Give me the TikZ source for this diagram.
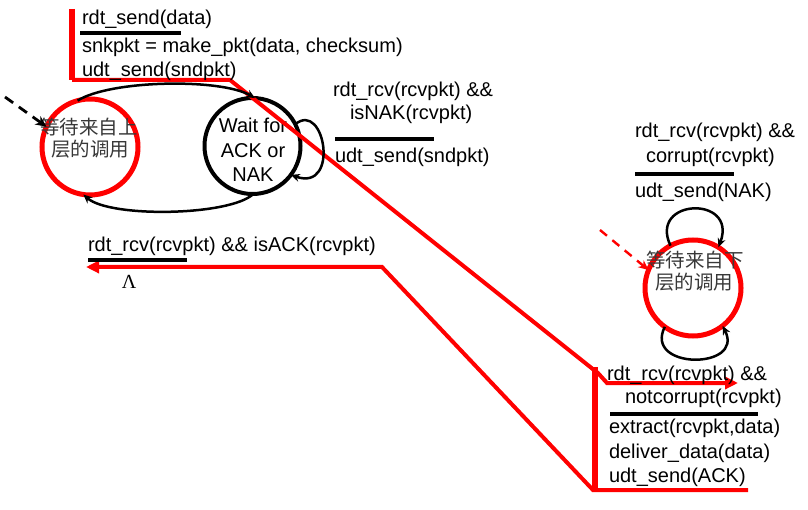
\documentclass[tikz,border=0pt]{standalone}
\usepackage{fontspec}
\setmainfont{Liberation Sans}
\newfontfamily\cjk{Noto Sans CJK SC}
\newfontfamily\serifgreek{Liberation Serif}
\usetikzlibrary{arrows.meta}
\begin{document}
\begin{tikzpicture}[x=1pt,y=-1pt,
  every node/.style={inner sep=0pt,outer sep=0pt},
  txt/.style={anchor=base west,font=\fontsize{20}{24}\selectfont},
  ctxt/.style={anchor=base,font=\fontsize{20}{24}\selectfont},
  cjktxt/.style={anchor=base,font=\fontsize{19.5}{23}\selectfont\cjk,text=black!78},
  state/.style={circle,draw,minimum size=96pt},
  redstate/.style={state,draw=red,line width=5pt},
  blackstate/.style={state,draw=black,line width=4pt},
  arc/.style={draw=black,line width=2.5pt,-{Stealth[length=9pt,width=8pt]}},
  bar/.style={draw=black,line width=3.5pt},
  hl/.style={draw=red,line width=4pt},
  hlthick/.style={draw=red,line width=6.5pt},
  hlarrow/.style={hl,-{Triangle[length=13pt,width=12pt]}},
]
\useasboundingbox (0,0) rectangle (808,510);

% states
\node[redstate] (call) at (90,147) {};
\node[blackstate] (wack) at (252.5,146) {};
\node[redstate] (rcv) at (693,288) {};

% state labels
\node[cjktxt] (callA) at (89,135) {等待来自上};
\node[cjktxt] (callB) at (90,157) {层的调用};
\node[ctxt] (wackA) at (253,133) {Wait for};
\node[ctxt] (wackB) at (253,158) {ACK or};
\node[ctxt] (wackC) at (253,182) {NAK};
\node[cjktxt] (rcvA) at (695,268) {等待来自下};
\node[cjktxt] (rcvB) at (694,290) {层的调用};

% red highlight paths
\coordinate (pa0) at (72,9);
\coordinate (pa1) at (72,80);
\coordinate (pa2) at (230,80);
\coordinate (pa3) at (594,370);
\coordinate (pv0) at (595,367);
\coordinate (pv1) at (595,488);
\coordinate (pr0) at (597,372);
\coordinate (pr1) at (607,383);
\coordinate (pr2) at (738,383);
\coordinate (pb0) at (748,490);
\coordinate (pb1) at (593,490);
\coordinate (pb2) at (382,267);
\coordinate (pb3) at (86,267);
\draw[hlthick] (pa0) -- (pa1);
\draw[hl] (pa1) -- (pa2) -- (pa3);
\draw[hlthick] (pv0) -- (pv1);
\draw[hlarrow] (pr0) -- (pr1) -- (pr2);
\draw[hlarrow] (pb0) -- (pb1) -- (pb2) -- (pb3);

% transitions
\draw[arc] (call.105) .. controls (110,80) and (220,78) .. (wack.87);
\draw[arc] (wack.-89) .. controls (230,216) and (110,218) .. (call.-98);
\draw[arc] (wack.27) .. controls (325,100) and (340,192) .. (wack.-37);
\draw[arc] (rcv.118) .. controls (648,198) and (738,195) .. (rcv.58);
\draw[arc] (rcv.-126) .. controls (643,370) and (745,370) .. (rcv.-52);

% initial arrows
\coordinate (ini1) at (5,97);
\coordinate (ini2) at (600,230);
\draw[draw=black,line width=2.8pt,dash pattern=on 10pt off 7pt,-{Stealth[length=11pt,width=10pt]}] (ini1) -- (call.155);
\draw[draw=red,line width=2.4pt,dash pattern=on 9pt off 7pt,-{Stealth[length=10pt,width=9pt]}] (ini2) -- (rcv.158);

% sender top label
\node[txt] (l1) at (82,25) {rdt\_send(data)};
\draw[bar] (80,33) -- (181,33);
\node[txt] (l2) at (82,53) {snkpkt = make\_pkt(data, checksum)};
\node[txt] (l3) at (82,77) {udt\_send(sndpkt)};

% NAK loop label
\node[txt] (n1) at (333,97) {rdt\_rcv(rcvpkt) \&\&};
\node[txt] (n2) at (350,120) {isNAK(rcvpkt)};
\draw[bar] (335,139) -- (434,139);
\node[txt] (n3) at (335,163) {udt\_send(sndpkt)};

% ACK label
\node[txt] (a1) at (88,252) {rdt\_rcv(rcvpkt) \&\& isACK(rcvpkt)};
\draw[bar] (88,260) -- (187,260);
\node[ctxt,font=\fontsize{20}{24}\selectfont\serifgreek] (a2) at (129,289) {Λ};

% receiver corrupt label
\node[txt] (c1) at (635,138) {rdt\_rcv(rcvpkt) \&\&};
\node[txt] (c2) at (646,163) {corrupt(rcvpkt)};
\draw[bar] (635,174) -- (734,174);
\node[txt] (c3) at (635,198) {udt\_send(NAK)};

% receiver notcorrupt label
\node[txt] (d1) at (607,380) {rdt\_rcv(rcvpkt) \&\&};
\node[txt] (d2) at (625,403) {notcorrupt(rcvpkt)};
\draw[bar] (610,414) -- (758,414);
\node[txt] (d3) at (609,433) {extract(rcvpkt,data)};
\node[txt] (d4) at (609,458) {deliver\_data(data)};
\node[txt] (d5) at (609,482) {udt\_send(ACK)};
\end{tikzpicture}
\end{document}
